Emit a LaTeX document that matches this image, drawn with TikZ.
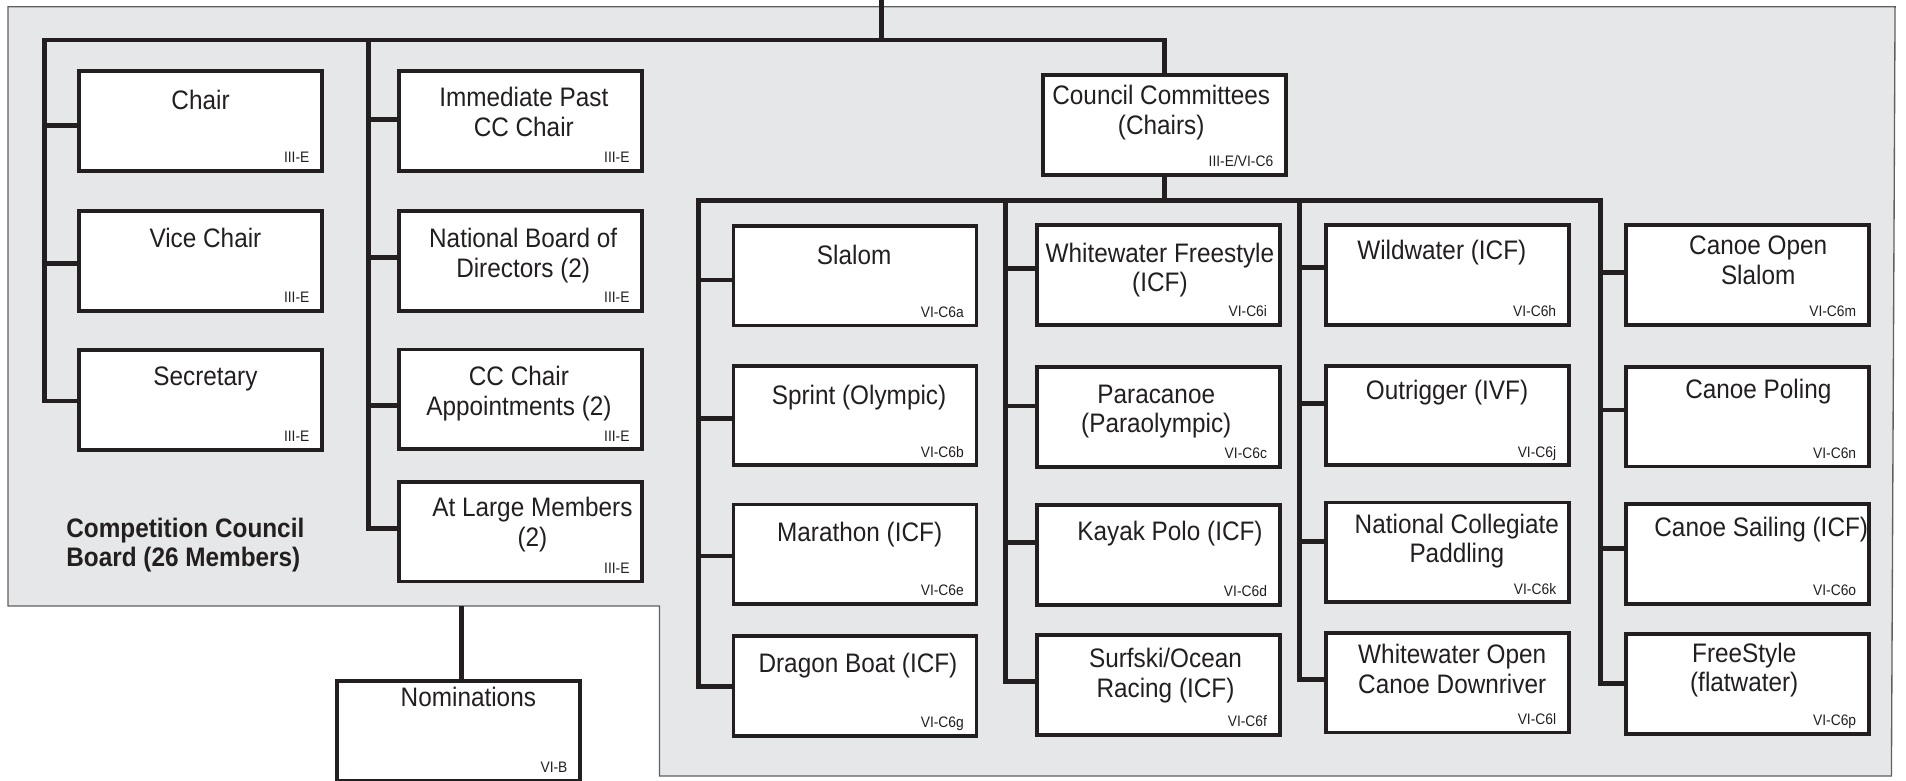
\documentclass[tikz,border=0pt]{standalone}
\usepackage{fontspec}
\usetikzlibrary{backgrounds}
\setmainfont[FakeStretch=0.91]{Liberation Sans}
\definecolor{bg}{RGB}{230,231,232}
\definecolor{ink}{RGB}{35,31,32}
\definecolor{rim}{RGB}{95,96,98}
\tikzset{
  box/.style={draw=ink, line width=3.1pt, fill=white, minimum width=199.9pt, minimum height=81.9pt, inner sep=0pt, outer sep=0pt},
  main/.style={text=ink, font=\fontsize{22}{24.5}\selectfont, align=center, inner sep=0pt},
  code/.style={text=ink, font=\fontsize{12.5}{14}\selectfont, inner sep=0pt},
  conn/.style={draw=ink, line width=3.8pt},
  boardlabel/.style={text=ink, font=\bfseries\fontsize{22}{24}\selectfont, align=left, inner sep=0pt},
  region/.style={fill=bg, draw=rim, line width=1.1pt}
}
% name, x, y (outer top-left), text xshift, first-line centre offset, text, code, branch dy
\newcommand\obox[8]{%
  \node[box, anchor=north west] (#1) at ({#2+1.55},{#3+1.55}) {};
  \node[main, anchor=north] (#1-t) at ([xshift=#4pt, yshift={(10.75-#5)*1pt}]#1.north) {\rule{0pt}{17pt}#6};
  \node[code, anchor=base east] (#1-c) at ([xshift=-10.25pt, yshift=6.65pt]#1.south east) {#7};
  \coordinate (#1-b) at ([yshift={-(#8)*1pt}]#1.west);
}
\begin{document}
\begin{tikzpicture}[x=1pt, y=-1pt]
\useasboundingbox (0,0) rectangle (1568,642);
\begin{scope}[on background layer]
\fill[white] (0,0) rectangle (1568,642);
\draw[region] (6.6,5.5) -- (1559,5.5) -- (1556,638.4) -- (542.5,638.4) -- (542.5,498.5) -- (6.6,498.5) -- cycle;
\end{scope}

% boxes
\obox{chair}{63.5}{57}{0}{24.7}{Chair}{III-E}{3.5}
\obox{vice}{63.5}{172.2}{4}{23.8}{Vice Chair}{III-E}{1.9}
\obox{sec}{63.5}{286.5}{4}{22.8}{Secretary}{III-E}{0.9}
\obox{imm}{326.9}{57}{2.5}{22.5}{Immediate Past\\CC Chair}{III-E}{-1.3}
\obox{nbd}{326.9}{172.2}{2}{23.8}{National Board of\\Directors (2)}{III-E}{-3}
\obox{cca}{326.9}{286}{-1.5}{23.3}{CC Chair\\Appointments (2)}{III-E}{4.9}
\obox{atl}{326.9}{394.9}{9.6}{21.9}{At Large Members\\(2)}{III-E}{-2.5}
\obox{nom}{275.8}{558.6}{8}{15}{Nominations}{VI-B}{0}
\obox{cc}{856.4}{60.3}{-2.6}{17.7}{Council Committees\\(Chairs)}{III-E/VI-C6}{0}
\obox{slalom}{601.9}{184.3}{-0.7}{25.5}{Slalom}{VI-C6a}{3.5}
\obox{sprint}{601.9}{299.4}{3.3}{25.6}{Sprint (Olympic)}{VI-C6b}{2.2}
\obox{mara}{601.9}{413.5}{3.8}{23.9}{Marathon (ICF)}{VI-C6e}{1.4}
\obox{drag}{601.9}{521.8}{2.4}{23.3}{Dragon Boat (ICF)}{VI-C6g}{0.6}
\obox{wwf}{851.3}{183.7}{1.4}{23.9}{Whitewater Freestyle\\(ICF)}{VI-C6i}{-5.5}
\obox{para}{851.3}{300.5}{-1.6}{23.1}{Paracanoe\\(Paraolympic)}{VI-C6c}{-9}
\obox{kayak}{851.3}{414}{9.7}{22.5}{Kayak Polo (ICF)}{VI-C6d}{-10.3}
\obox{surf}{851.3}{521}{6}{20}{Surfski/Ocean\\Racing (ICF)}{VI-C6f}{-2.7}
\obox{wild}{1089.2}{183.7}{-4.6}{22}{Wildwater (ICF)}{VI-C6h}{-6.3}
\obox{outr}{1089.2}{299.4}{-0.3}{21.4}{Outrigger (IVF)}{VI-C6j}{-10.1}
\obox{ncp}{1089.2}{411.9}{7.8}{18.6}{National Collegiate\\Paddling}{VI-C6k}{-8.8}
\obox{wwo}{1089.2}{519.1}{4}{18.9}{Whitewater Open\\Canoe Downriver}{VI-C6l}{-2.8}
\obox{cos}{1336}{183.7}{8.9}{17.8}{Canoe Open\\Slalom}{VI-C6m}{-1.9}
\obox{pol}{1336}{300.3}{9}{19.2}{Canoe Poling}{VI-C6n}{-5.5}
\obox{sail}{1336}{413.2}{11.4}{20.1}{Canoe Sailing (ICF)}{VI-C6o}{-4.7}
\obox{free}{1336}{520.2}{-2.6}{16.4}{FreeStyle\\(flatwater)}{VI-C6p}{-0.6}

% board label
\node[boardlabel, anchor=north west] (board) at (54.4,424.7) {\rule{0pt}{17pt}Competition Council\\Board (26 Members)};

\coordinate (stem) at (725.4,-5);
\coordinate (busA) at (36.7,33);
\coordinate (colB) at (303.4,33);
\coordinate (bus2L) at (574.4,164.8);
\coordinate (bus2R) at (1316.8,164.8);
\coordinate (col2) at (827.4,164.8);
\coordinate (col3) at (1069.2,164.8);
\coordinate (nomtop) at (379.4,498.5);

\begin{scope}[on background layer]
\draw[conn] (stem) -- (stem |- busA);
\draw[conn] (sec-b) -| (busA) -- (busA -| cc.north) -- (cc.north);
\draw[conn] (busA |- chair-b) -- (chair-b);
\draw[conn] (busA |- vice-b) -- (vice-b);
\draw[conn] (colB) |- (atl-b);
\draw[conn] (colB |- imm-b) -- (imm-b);
\draw[conn] (colB |- nbd-b) -- (nbd-b);
\draw[conn] (colB |- cca-b) -- (cca-b);
\draw[conn] (nomtop) -- (nomtop |- nom.north);

\draw[conn] (cc.south) -- (cc.south |- bus2L);
\draw[conn] (drag-b) -| (bus2L) -- (bus2R) |- (free-b);
\draw[conn] (bus2L |- slalom-b) -- (slalom-b);
\draw[conn] (bus2L |- sprint-b) -- (sprint-b);
\draw[conn] (bus2L |- mara-b) -- (mara-b);
\draw[conn] (col2) |- (surf-b);
\draw[conn] (col2 |- wwf-b) -- (wwf-b);
\draw[conn] (col2 |- para-b) -- (para-b);
\draw[conn] (col2 |- kayak-b) -- (kayak-b);
\draw[conn] (col3) |- (wwo-b);
\draw[conn] (col3 |- wild-b) -- (wild-b);
\draw[conn] (col3 |- outr-b) -- (outr-b);
\draw[conn] (col3 |- ncp-b) -- (ncp-b);
\draw[conn] (bus2R |- cos-b) -- (cos-b);
\draw[conn] (bus2R |- pol-b) -- (pol-b);
\draw[conn] (bus2R |- sail-b) -- (sail-b);
\end{scope}
\end{tikzpicture}
\end{document}
